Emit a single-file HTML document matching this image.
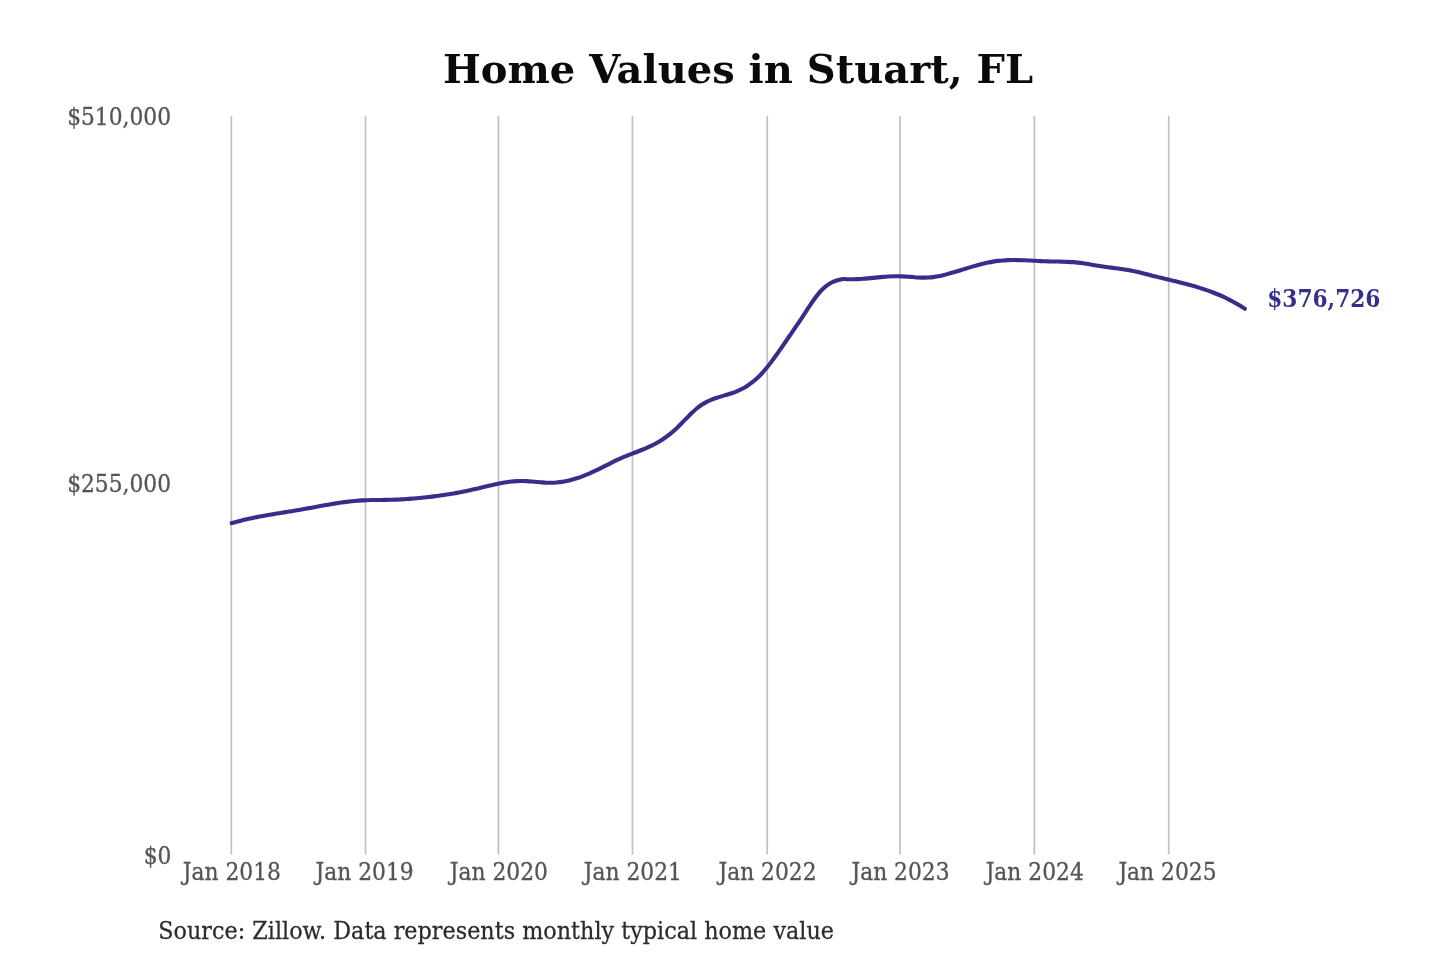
<!DOCTYPE html>
<html lang="en"><head><meta charset="utf-8"><title>Home Values in Stuart, FL</title>
<style>
html,body{margin:0;padding:0;background:#fff;}
body{width:1440px;height:960px;overflow:hidden;font-family:"DejaVu Serif","Liberation Serif",serif;}
svg{display:block;filter:blur(0.5px);}
text{font-family:"DejaVu Serif","Liberation Serif",serif;}
.title{font-size:40px;font-weight:bold;fill:#0a0a0a;}
.tick{font-size:21.8px;fill:#555;stroke:#555;stroke-width:0.3px;}
.src{font-size:22.3px;fill:#2b2b2b;stroke:#2b2b2b;stroke-width:0.25px;}
.val{font-size:21.7px;font-weight:bold;fill:#352f8c;}
.grid line{stroke:#c3c3c3;stroke-width:1.8;}
</style></head>
<body>
<svg width="1440" height="960" viewBox="0 0 1440 960">
<rect width="1440" height="960" fill="#ffffff"/>
<text class="title" x="738.05" y="83" text-anchor="middle">Home Values in Stuart, FL</text>
<g class="grid">
<line x1="231.3" y1="116.1" x2="231.3" y2="854.5"/>
<line x1="365.5" y1="116.1" x2="365.5" y2="854.5"/>
<line x1="498.4" y1="116.1" x2="498.4" y2="854.5"/>
<line x1="632.5" y1="116.1" x2="632.5" y2="854.5"/>
<line x1="767.2" y1="116.1" x2="767.2" y2="854.5"/>
<line x1="900.0" y1="116.1" x2="900.0" y2="854.5"/>
<line x1="1034.3" y1="116.1" x2="1034.3" y2="854.5"/>
<line x1="1168.75" y1="116.1" x2="1168.75" y2="854.5"/>
</g>
<g class="tick" text-anchor="end">
<text transform="translate(171.1,124.7) scale(1,1.08)">$510,000</text>
<text transform="translate(171.1,492.4) scale(1,1.08)">$255,000</text>
<text transform="translate(171.4,863.5) scale(1,1.08)">$0</text>
</g>
<g class="tick" text-anchor="middle">
<text transform="translate(231.8,880.2) scale(1,1.08)">Jan 2018</text>
<text transform="translate(364.6,880.2) scale(1,1.08)">Jan 2019</text>
<text transform="translate(498.8,880.2) scale(1,1.08)">Jan 2020</text>
<text transform="translate(632.9,880.2) scale(1,1.08)">Jan 2021</text>
<text transform="translate(767.5,880.2) scale(1,1.08)">Jan 2022</text>
<text transform="translate(900.5,880.2) scale(1,1.08)">Jan 2023</text>
<text transform="translate(1034.7,880.2) scale(1,1.08)">Jan 2024</text>
<text transform="translate(1167.45,880.2) scale(1,1.08)">Jan 2025</text>
</g>
<path d="M231.70,523.10 C232.53,522.87 235.03,522.15 236.70,521.70 C238.37,521.25 240.03,520.83 241.70,520.42 C243.37,520.00 245.03,519.61 246.70,519.23 C248.37,518.85 250.03,518.49 251.70,518.14 C253.37,517.79 255.03,517.45 256.70,517.12 C258.37,516.80 260.03,516.48 261.70,516.17 C263.37,515.86 265.03,515.57 266.70,515.27 C268.37,514.98 270.03,514.70 271.70,514.42 C273.37,514.14 275.03,513.86 276.70,513.59 C278.37,513.32 280.03,513.05 281.70,512.78 C283.37,512.51 285.03,512.25 286.70,511.98 C288.37,511.71 290.03,511.44 291.70,511.17 C293.37,510.89 295.03,510.62 296.70,510.34 C298.37,510.05 300.03,509.77 301.70,509.47 C303.37,509.18 305.03,508.88 306.70,508.58 C308.37,508.28 310.03,507.97 311.70,507.67 C313.37,507.36 315.03,507.05 316.70,506.74 C318.37,506.44 320.03,506.13 321.70,505.83 C323.37,505.53 325.03,505.23 326.70,504.94 C328.37,504.65 330.03,504.36 331.70,504.08 C333.37,503.80 335.03,503.53 336.70,503.27 C338.37,503.01 340.03,502.76 341.70,502.52 C343.37,502.28 345.03,502.06 346.70,501.85 C348.37,501.64 350.03,501.44 351.70,501.26 C353.37,501.09 355.03,500.92 356.70,500.78 C358.37,500.64 360.03,500.52 361.70,500.42 C363.37,500.32 365.03,500.25 366.70,500.18 C368.37,500.12 370.03,500.08 371.70,500.05 C373.37,500.01 375.03,500.00 376.70,499.98 C378.37,499.96 380.03,499.95 381.70,499.93 C383.37,499.91 385.03,499.90 386.70,499.87 C388.37,499.84 390.03,499.81 391.70,499.76 C393.37,499.72 395.03,499.66 396.70,499.58 C398.37,499.51 400.03,499.43 401.70,499.34 C403.37,499.24 405.03,499.14 406.70,499.02 C408.37,498.91 410.03,498.78 411.70,498.65 C413.37,498.51 415.03,498.37 416.70,498.22 C418.37,498.06 420.03,497.90 421.70,497.73 C423.37,497.56 425.03,497.38 426.70,497.20 C428.37,497.01 430.03,496.81 431.70,496.61 C433.37,496.41 435.03,496.20 436.70,495.98 C438.37,495.76 440.03,495.53 441.70,495.29 C443.37,495.06 445.03,494.81 446.70,494.55 C448.37,494.29 450.03,494.03 451.70,493.75 C453.37,493.47 455.03,493.18 456.70,492.88 C458.37,492.58 460.03,492.27 461.70,491.95 C463.37,491.63 465.03,491.29 466.70,490.95 C468.37,490.60 470.03,490.24 471.70,489.87 C473.37,489.49 475.03,489.10 476.70,488.71 C478.37,488.32 480.03,487.91 481.70,487.51 C483.37,487.11 485.03,486.70 486.70,486.31 C488.37,485.91 490.03,485.51 491.70,485.13 C493.37,484.75 495.03,484.38 496.70,484.03 C498.37,483.68 500.03,483.35 501.70,483.04 C503.37,482.74 505.03,482.45 506.70,482.20 C508.37,481.95 510.03,481.73 511.70,481.55 C513.37,481.37 515.03,481.23 516.70,481.13 C518.37,481.04 520.03,480.98 521.70,480.98 C523.37,480.98 525.03,481.04 526.70,481.12 C528.37,481.20 530.03,481.34 531.70,481.48 C533.37,481.61 535.03,481.79 536.70,481.94 C538.37,482.09 540.03,482.25 541.70,482.38 C543.37,482.50 545.03,482.62 546.70,482.68 C548.37,482.75 550.03,482.78 551.70,482.74 C553.37,482.71 555.03,482.61 556.70,482.47 C558.37,482.32 560.03,482.12 561.70,481.87 C563.37,481.62 565.03,481.31 566.70,480.96 C568.37,480.61 570.03,480.21 571.70,479.76 C573.37,479.32 575.03,478.83 576.70,478.30 C578.37,477.77 580.03,477.19 581.70,476.58 C583.37,475.97 585.03,475.32 586.70,474.64 C588.37,473.96 590.03,473.24 591.70,472.49 C593.37,471.74 595.03,470.95 596.70,470.15 C598.37,469.35 600.03,468.51 601.70,467.68 C603.37,466.84 605.03,465.99 606.70,465.15 C608.37,464.30 610.03,463.45 611.70,462.63 C613.37,461.80 615.03,460.98 616.70,460.19 C618.37,459.41 620.03,458.64 621.70,457.92 C623.37,457.19 625.03,456.51 626.70,455.84 C628.37,455.16 630.03,454.53 631.70,453.88 C633.37,453.24 635.03,452.62 636.70,451.97 C638.37,451.33 640.03,450.69 641.70,450.01 C643.37,449.34 645.03,448.66 646.70,447.92 C648.37,447.19 650.03,446.44 651.70,445.62 C653.37,444.80 655.03,443.94 656.70,443.00 C658.37,442.07 660.03,441.08 661.70,440.00 C663.37,438.91 665.03,437.76 666.70,436.52 C668.37,435.28 670.03,433.96 671.70,432.56 C673.37,431.16 675.03,429.69 676.70,428.14 C678.37,426.59 680.03,424.94 681.70,423.26 C683.37,421.59 685.03,419.81 686.70,418.10 C688.37,416.40 690.03,414.64 691.70,413.04 C693.37,411.44 695.03,409.86 696.70,408.48 C698.37,407.10 700.03,405.87 701.70,404.77 C703.37,403.67 705.03,402.74 706.70,401.88 C708.37,401.02 710.03,400.30 711.70,399.62 C713.37,398.94 715.03,398.36 716.70,397.80 C718.37,397.24 720.03,396.76 721.70,396.25 C723.37,395.75 725.03,395.29 726.70,394.78 C728.37,394.27 730.03,393.78 731.70,393.20 C733.37,392.63 735.03,392.03 736.70,391.34 C738.37,390.64 740.03,389.89 741.70,389.03 C743.37,388.17 745.03,387.24 746.70,386.19 C748.37,385.14 750.03,384.00 751.70,382.72 C753.37,381.45 755.03,380.07 756.70,378.53 C758.37,377.00 760.03,375.33 761.70,373.54 C763.37,371.74 765.03,369.79 766.70,367.76 C768.37,365.73 770.03,363.58 771.70,361.37 C773.37,359.16 775.03,356.85 776.70,354.51 C778.37,352.18 780.03,349.77 781.70,347.37 C783.37,344.96 785.03,342.52 786.70,340.09 C788.37,337.66 790.03,335.24 791.70,332.80 C793.37,330.36 795.03,327.93 796.70,325.47 C798.37,323.00 800.03,320.53 801.70,318.03 C803.37,315.52 805.03,312.96 806.70,310.43 C808.37,307.91 810.03,305.29 811.70,302.86 C813.37,300.44 815.03,298.02 816.70,295.88 C818.37,293.73 820.03,291.71 821.70,289.99 C823.37,288.27 825.03,286.78 826.70,285.54 C828.37,284.29 830.03,283.35 831.70,282.52 C833.37,281.69 835.03,281.11 836.70,280.57 C838.37,280.03 840.63,279.55 841.70,279.29 C842.77,279.03 842.87,279.05 843.10,279.00 C843.93,279.04 846.43,279.22 848.10,279.26 C849.77,279.31 851.43,279.31 853.10,279.28 C854.77,279.26 856.43,279.19 858.10,279.11 C859.77,279.02 861.43,278.90 863.10,278.78 C864.77,278.65 866.43,278.50 868.10,278.35 C869.77,278.19 871.43,278.02 873.10,277.86 C874.77,277.69 876.43,277.52 878.10,277.36 C879.77,277.20 881.43,277.04 883.10,276.90 C884.77,276.76 886.43,276.63 888.10,276.52 C889.77,276.42 891.43,276.33 893.10,276.28 C894.77,276.22 896.43,276.19 898.10,276.21 C899.77,276.22 901.43,276.28 903.10,276.36 C904.77,276.44 906.43,276.56 908.10,276.68 C909.77,276.80 911.43,276.95 913.10,277.08 C914.77,277.20 916.43,277.33 918.10,277.43 C919.77,277.52 921.43,277.60 923.10,277.63 C924.77,277.65 926.43,277.65 928.10,277.57 C929.77,277.49 931.43,277.36 933.10,277.15 C934.77,276.95 936.43,276.66 938.10,276.34 C939.77,276.02 941.43,275.63 943.10,275.23 C944.77,274.82 946.43,274.37 948.10,273.90 C949.77,273.44 951.43,272.95 953.10,272.46 C954.77,271.97 956.43,271.46 958.10,270.95 C959.77,270.44 961.43,269.92 963.10,269.41 C964.77,268.90 966.43,268.38 968.10,267.88 C969.77,267.37 971.43,266.87 973.10,266.39 C974.77,265.90 976.43,265.43 978.10,264.98 C979.77,264.53 981.43,264.09 983.10,263.69 C984.77,263.28 986.43,262.90 988.10,262.55 C989.77,262.21 991.43,261.89 993.10,261.62 C994.77,261.34 996.43,261.10 998.10,260.91 C999.77,260.71 1001.43,260.55 1003.10,260.43 C1004.77,260.30 1006.43,260.22 1008.10,260.15 C1009.77,260.09 1011.43,260.06 1013.10,260.05 C1014.77,260.04 1016.43,260.05 1018.10,260.08 C1019.77,260.11 1021.43,260.16 1023.10,260.22 C1024.77,260.28 1026.43,260.35 1028.10,260.43 C1029.77,260.51 1031.43,260.60 1033.10,260.68 C1034.77,260.77 1036.43,260.86 1038.10,260.95 C1039.77,261.03 1041.43,261.12 1043.10,261.19 C1044.77,261.26 1046.43,261.32 1048.10,261.37 C1049.77,261.42 1051.43,261.45 1053.10,261.49 C1054.77,261.52 1056.43,261.54 1058.10,261.57 C1059.77,261.61 1061.43,261.64 1063.10,261.68 C1064.77,261.73 1066.43,261.78 1068.10,261.86 C1069.77,261.94 1071.43,262.03 1073.10,262.16 C1074.77,262.28 1076.43,262.43 1078.10,262.62 C1079.77,262.81 1081.43,263.04 1083.10,263.28 C1084.77,263.52 1086.43,263.81 1088.10,264.08 C1089.77,264.36 1091.43,264.66 1093.10,264.94 C1094.77,265.22 1096.43,265.51 1098.10,265.78 C1099.77,266.05 1101.43,266.30 1103.10,266.55 C1104.77,266.79 1106.43,267.01 1108.10,267.24 C1109.77,267.47 1111.43,267.68 1113.10,267.90 C1114.77,268.12 1116.43,268.33 1118.10,268.56 C1119.77,268.79 1121.43,269.02 1123.10,269.28 C1124.77,269.53 1126.43,269.79 1128.10,270.08 C1129.77,270.37 1131.43,270.68 1133.10,271.01 C1134.77,271.35 1136.43,271.72 1138.10,272.11 C1139.77,272.49 1141.43,272.91 1143.10,273.33 C1144.77,273.74 1146.43,274.18 1148.10,274.61 C1149.77,275.03 1151.43,275.47 1153.10,275.89 C1154.77,276.31 1156.43,276.72 1158.10,277.13 C1159.77,277.54 1161.43,277.94 1163.10,278.34 C1164.77,278.74 1166.43,279.13 1168.10,279.53 C1169.77,279.93 1171.43,280.32 1173.10,280.72 C1174.77,281.13 1176.43,281.53 1178.10,281.94 C1179.77,282.35 1181.43,282.77 1183.10,283.19 C1184.77,283.62 1186.43,284.05 1188.10,284.50 C1189.77,284.95 1191.43,285.41 1193.10,285.88 C1194.77,286.36 1196.43,286.85 1198.10,287.36 C1199.77,287.86 1201.43,288.39 1203.10,288.94 C1204.77,289.49 1206.43,290.05 1208.10,290.64 C1209.77,291.24 1211.43,291.85 1213.10,292.50 C1214.77,293.14 1216.43,293.81 1218.10,294.51 C1219.77,295.21 1221.43,295.94 1223.10,296.70 C1224.77,297.46 1226.43,298.26 1228.10,299.09 C1229.77,299.92 1231.43,300.79 1233.10,301.69 C1234.77,302.60 1236.43,303.54 1238.10,304.53 C1239.77,305.52 1241.98,306.92 1243.10,307.62 C1244.22,308.32 1244.52,308.54 1244.80,308.73" fill="none" stroke="#362e88" stroke-width="4.1" stroke-linecap="round" stroke-linejoin="round"/>
<text class="val" transform="translate(1267.2,307) scale(1,1.07)">$376,726</text>
<text class="src" transform="translate(158.3,939.3) scale(1,1.05)">Source: Zillow. Data represents monthly typical home value</text>
</svg>
</body></html>
